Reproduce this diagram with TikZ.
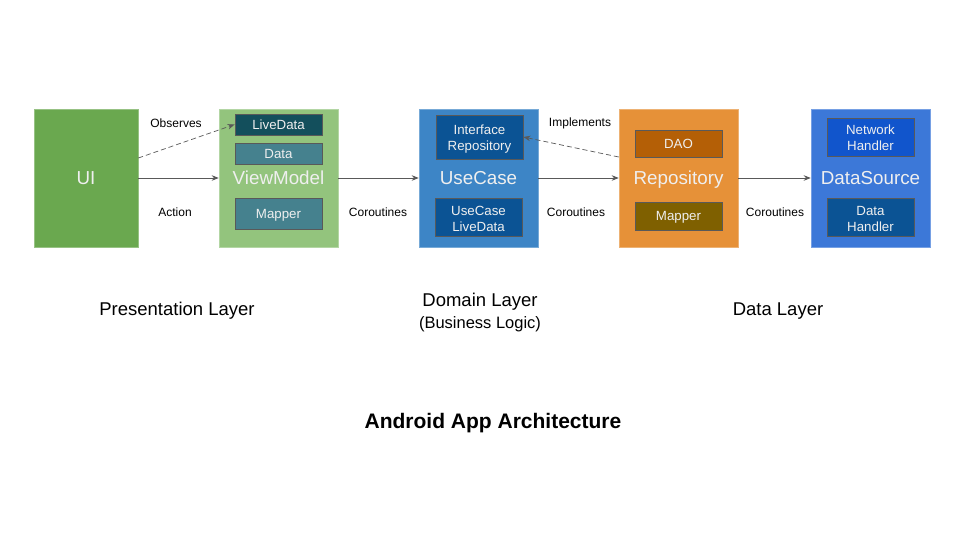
\documentclass[tikz,border=0pt]{standalone}
\usepackage{fontspec}
\setmainfont{Liberation Sans}
\usetikzlibrary{arrows.meta,positioning}
\definecolor{uigreen}{HTML}{6AA84F}
\definecolor{vmgreen}{HTML}{93C47D}
\definecolor{darkteal}{HTML}{134F5C}
\definecolor{teal}{HTML}{45818E}
\definecolor{ucblue}{HTML}{3D85C6}
\definecolor{darkblue}{HTML}{0B5394}
\definecolor{repoorange}{HTML}{E69138}
\definecolor{daobrown}{HTML}{B45F06}
\definecolor{olive}{HTML}{7F6000}
\definecolor{dsblue}{HTML}{3C78D8}
\definecolor{netblue}{HTML}{1155CC}
\definecolor{linegrey}{HTML}{595959}
\definecolor{lighttext}{HTML}{EFEFEF}
\tikzstyle{layer} = [rectangle, minimum width=119pt, minimum height=138pt, text=lighttext, font=\fontsize{18.8}{22}\selectfont, text height=13.5pt, text depth=0pt, line width=0.6pt]
\tikzstyle{part} = [rectangle, draw=linegrey, line width=0.8pt, minimum width=87pt, text=lighttext, align=center, font=\fontsize{13.3}{16}\selectfont, text height=9.6pt, text depth=0pt, inner sep=1pt]

\begin{document}
\begin{tikzpicture}[x=1pt,y=-1pt,>={Stealth[length=7pt,width=5.5pt]},
			outer/.style={layer, fill=#1, draw=#1!70!white},
			inner/.style={part, fill=#1},
			twoline/.style={text height=28pt},
			line/.style={draw=linegrey, line width=0.7pt},
			lbl/.style={font=\fontsize{12}{14}\selectfont},
			caption/.style={font=\fontsize{18.5}{22}\selectfont, align=center}]
			\useasboundingbox[fill=white] (0,0) rectangle (960,540);
			% layer boxes
			\node (ui)[outer=uigreen, minimum width=104pt] at (86,178) {UI};
			\node (vm)[outer=vmgreen] at (278.5,178) {ViewModel};
			\node (uc)[outer=ucblue] at (478.5,178) {UseCase};
			\node (repo)[outer=repoorange] at (678.5,178) {Repository};
			\node (ds)[outer=dsblue] at (870.5,178) {DataSource};
			% parts
			\node (livedata)[inner=darkteal, minimum height=21pt] at (278.5,124.5) {LiveData};
			\node (vmdata)[inner=teal, minimum height=21pt] at (278.5,153.5) {Data};
			\node (vmmapper)[inner=teal, minimum height=31pt] at (278.5,213.5) {Mapper};
			\node (ifrepo)[inner=darkblue, twoline, minimum height=44pt] at (479.5,137) {Interface\\Repository};
			\node (uclive)[inner=darkblue, twoline, minimum height=38pt] at (478.5,217) {UseCase\\LiveData};
			\node (dao)[inner=daobrown, minimum height=27pt] at (678.5,143.5) {DAO};
			\node (repomapper)[inner=olive, minimum height=28pt] at (678.5,216) {Mapper};
			\node (nethandler)[inner=netblue, twoline, minimum height=38pt] at (870.5,137) {Network\\Handler};
			\node (datahandler)[inner=darkblue, twoline, minimum height=38pt] at (870.5,217) {Data\\Handler};
			% connectors
			\draw [->,line] (ui) -- (vm);
			\draw [->,line] (vm) -- (uc);
			\draw [->,line] (uc) -- (repo);
			\draw [->,line] (repo) -- (ds);
			\draw [->,line,dash pattern=on 5pt off 3pt] ([yshift=20pt]ui.east) -- (livedata.west);
			\draw [->,line,dash pattern=on 5pt off 3pt] ([yshift=21pt]repo.west) -- (ifrepo.east);
			% labels
			\node (observes)[lbl] at (176,123) {Observes};
			\node (action)[lbl] at (175,212) {Action};
			\node (co1)[lbl] at (378,212) {Coroutines};
			\node (implements)[lbl] at (580,123.5) {Implements};
			\node (co2)[lbl] at (576,212) {Coroutines};
			\node (co3)[lbl] at (775,212) {Coroutines};
			\node (presentation)[caption] at (177,311) {Presentation Layer};
			\node (domain)[caption] at (480,313) {Domain Layer\\{\fontsize{16.5}{22}\selectfont(Business Logic)}};
			\node (datalayer)[caption] at (778,311) {Data Layer};
			\node (title)[caption, font=\fontsize{21}{24}\selectfont\bfseries] at (493,423) {Android App Architecture};
		\end{tikzpicture}
\end{document}
